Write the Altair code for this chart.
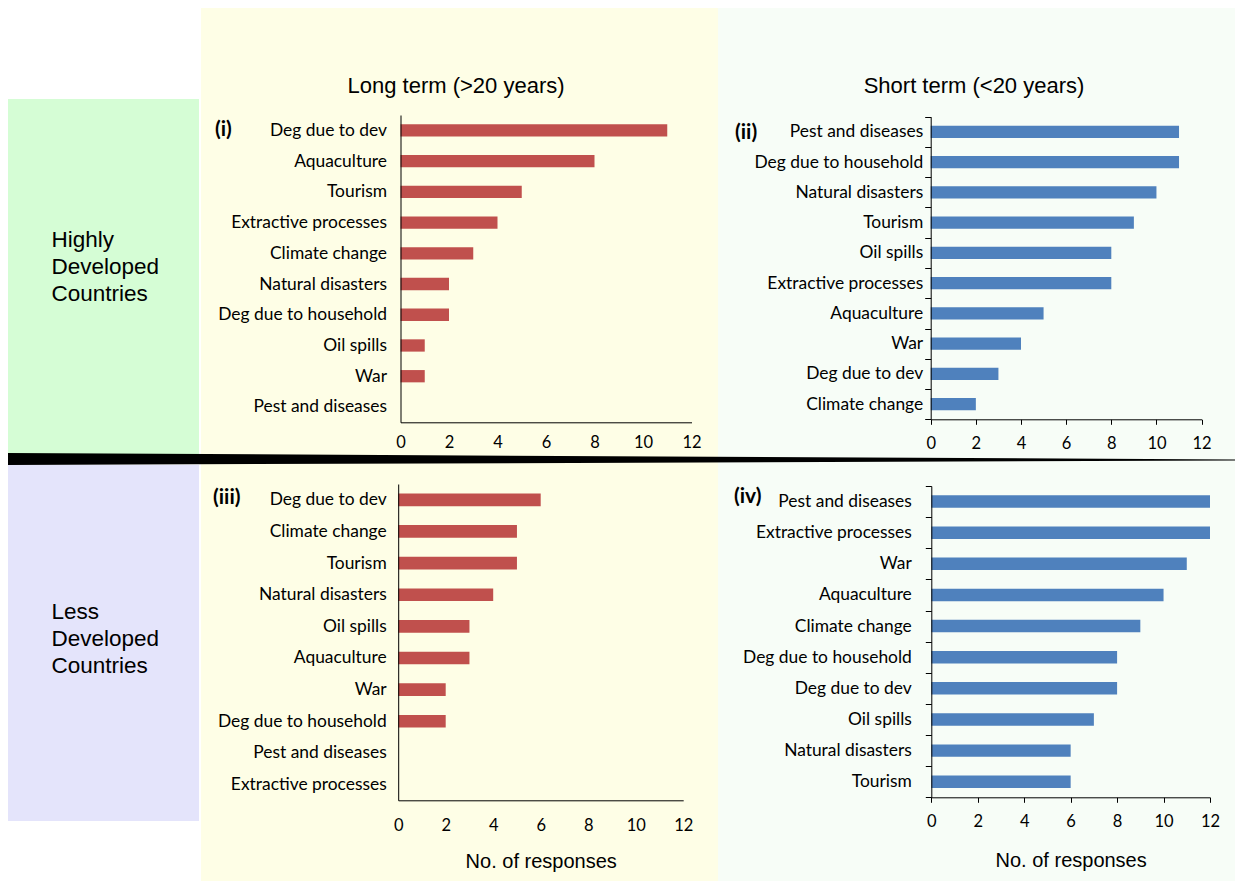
import altair as alt
import pandas as pd

# ---------------- data ----------------
cats_i = ["Deg due to dev", "Aquaculture", "Tourism", "Extractive processes", "Climate change",
          "Natural disasters", "Deg due to household", "Oil spills", "War", "Pest and diseases"]
vals_i = [11, 8, 5, 4, 3, 2, 2, 1, 1, 0]

cats_ii = ["Pest and diseases", "Deg due to household", "Natural disasters", "Tourism", "Oil spills",
           "Extractive processes", "Aquaculture", "War", "Deg due to dev", "Climate change"]
vals_ii = [11, 11, 10, 9, 8, 8, 5, 4, 3, 2]

cats_iii = ["Deg due to dev", "Climate change", "Tourism", "Natural disasters", "Oil spills",
            "Aquaculture", "War", "Deg due to household", "Pest and diseases", "Extractive processes"]
vals_iii = [6, 5, 5, 4, 3, 3, 2, 2, 0, 0]

cats_iv = ["Pest and diseases", "Extractive processes", "War", "Aquaculture", "Climate change",
           "Deg due to household", "Deg due to dev", "Oil spills", "Natural disasters", "Tourism"]
vals_iv = [12, 12, 11, 10, 9, 8, 8, 7, 6, 6]

x_ticks = [0, 2, 4, 6, 8, 10, 12]
col_titles = ["Long term (>20 years)", "Short term (<20 years)"]
row_titles = ["Highly\nDeveloped\nCountries", "Less\nDeveloped\nCountries"]
panel_tags = ["(i)", "(ii)", "(iii)", "(iv)"]
x_title = "No. of responses"

wedge_x = [-3, 1235]
wedge_y = [451, 452]
wedge_w = [12, 1]

W, H = 1227, 873
RED = "#C0504D"
BLUE = "#4F81BD"


def rect(x0, x1, y0, y1, color):
    return alt.Chart(pd.DataFrame({"a": [0]})).mark_rect(color=color).encode(
        x=alt.value(x0), x2=alt.value(x1), y=alt.value(y0), y2=alt.value(y1))


def label(text, x, y, **kw):
    return alt.Chart(pd.DataFrame({"t": [text]})).mark_text(**kw).encode(
        x=alt.value(x), y=alt.value(y), text="t:N")


def panel(cats, vals, color, xr, yr, ticks, ypad, xpad, title=None, title_y=61):
    df = pd.DataFrame({"cat": cats, "val": vals})
    xaxis = dict(orient="bottom", offset=yr[1] - H, values=x_ticks, grid=False,
                 labelFont="Lato", labelFontSize=16.5, labelColor="black",
                 labelPadding=xpad, ticks=ticks, tickSize=5 if ticks else 0,
                 tickColor="black", domainColor="black", labelFlush=False, zindex=2)
    if title:
        xaxis.update(title=title, titleFont="Liberation Sans", titleFontSize=20,
                     titleFontWeight="normal", titleColor="black", titleY=title_y,
                     titleBaseline="middle")
    else:
        xaxis.update(title=None)
    return alt.Chart(df).mark_bar(color=color, height={"band": 0.4}).encode(
        y=alt.Y("cat:N", sort=cats,
                scale=alt.Scale(range=list(yr), paddingInner=0, paddingOuter=0),
                axis=alt.Axis(orient="left", offset=-xr[0], title=None, grid=False,
                              labelFont="Lato", labelFontSize=17.4, labelColor="black",
                              labelPadding=ypad, labelLimit=400,
                              ticks=ticks, tickSize=6 if ticks else 0, tickBand="extent",
                              tickColor="black", domainColor="black", zindex=2)),
        x=alt.X("val:Q",
                scale=alt.Scale(domain=[0, 12], range=list(xr), nice=False, zero=True),
                axis=alt.Axis(**xaxis)),
    )


backgrounds = [
    rect(193, 710, 0, H, "#FEFEE6"),
    rect(710, W, 0, H, "#F7FDF7"),
    rect(0, 191, 91, 446, "#D5FDD5"),
    rect(0, 191, 457, 813, "#E4E4FB"),
]

wedge = alt.Chart(pd.DataFrame({"x": wedge_x, "y": wedge_y, "w": wedge_w})).mark_trail(
    color="black").encode(
    x=alt.X("x:Q", scale=None),
    y=alt.Y("y:Q", scale=None),
    size=alt.Size("w:Q", scale=None, legend=None),
)

texts = [
    label(col_titles[0], 448, 78, font="Liberation Sans", fontSize=22, align="center",
          baseline="middle", color="black"),
    label(col_titles[1], 966, 78, font="Liberation Sans", fontSize=22, align="center",
          baseline="middle", color="black"),
    label(row_titles[0], 43.5, 231.5, font="Liberation Sans", fontSize=22.5, align="left",
          baseline="middle", lineBreak="\n", lineHeight=27, color="black"),
    label(row_titles[1], 43.5, 604, font="Liberation Sans", fontSize=22.5, align="left",
          baseline="middle", lineBreak="\n", lineHeight=27, color="black"),
    label(panel_tags[0], 207, 122, font="Lato", fontSize=21, fontWeight="bold",
          align="left", baseline="middle", color="black"),
    label(panel_tags[1], 727, 125, font="Lato", fontSize=21, fontWeight="bold",
          align="left", baseline="middle", color="black"),
    label(panel_tags[2], 205, 490, font="Lato", fontSize=21, fontWeight="bold",
          align="left", baseline="middle", color="black"),
    label(panel_tags[3], 726, 489, font="Lato", fontSize=21, fontWeight="bold",
          align="left", baseline="middle", color="black"),
]

panels = [
    panel(cats_i, vals_i, RED, (392.5, 683.5), (107, 414.3), False, 14, 12),
    panel(cats_ii, vals_ii, BLUE, (922.7, 1193.6), (108.7, 411.3), True, 2, 11),
    panel(cats_iii, vals_iii, RED, (390.2, 675.2), (476, 792.3), False, 12, 17, x_title, 61),
    panel(cats_iv, vals_iv, BLUE, (923.3, 1202), (478, 789.3), True, 14, 11, x_title, 63.5),
]

chart = alt.layer(*backgrounds, wedge, *texts, *panels).resolve_scale(
    x="independent", y="independent"
).properties(
    width=W, height=H, autosize=alt.AutoSizeParams(type="none"), padding=0,
    background="white"
).configure_view(strokeWidth=0)

chart.save("out.html", embed_options={"renderer": "svg", "actions": False})
